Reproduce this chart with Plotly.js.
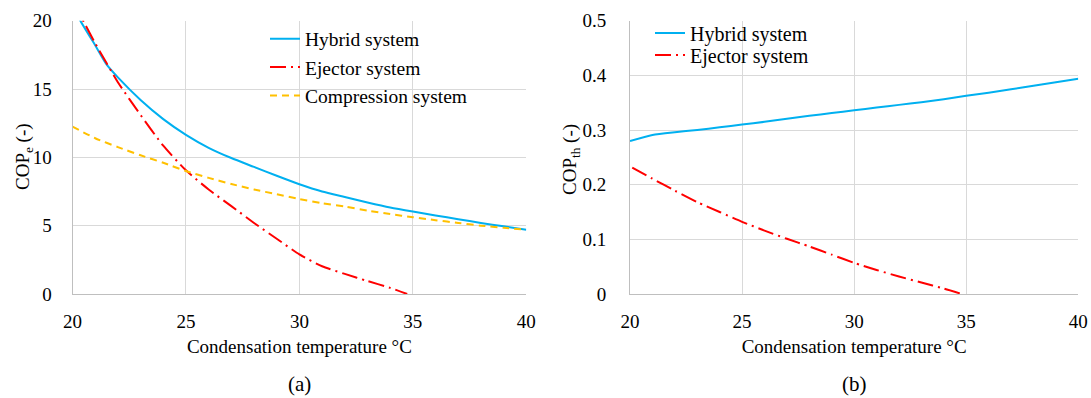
<!DOCTYPE html>
<html>
<head>
<meta charset="utf-8">
<script src="https://cdn.plot.ly/plotly-3.0.1.min.js"></script>
<style>html,body{margin:0;padding:0;background:#fff;}#chart{width:1091px;height:398px;}</style>
</head>
<body>
<div id="chart"></div>
<script>
// Panel (a): COP_e vs condensation temperature
const tempHybridA = [20, 20.33, 21, 21.5, 22, 23, 24, 25, 26, 27, 28, 29, 30, 31, 32, 33, 34, 35, 36, 37, 38, 39, 40];
const copeHybrid  = [21.3, 20.05, 18.2, 16.8, 15.85, 14.2, 12.8, 11.65, 10.7, 9.95, 9.3, 8.65, 8.03, 7.5, 7.1, 6.7, 6.33, 6.03, 5.75, 5.47, 5.2, 4.95, 4.7];
const tempEjectorA = [20, 20.5, 21, 22, 23, 24, 25, 26, 27, 28, 29, 30, 31, 32, 33, 34, 34.75];
const copeEjector  = [21.4, 19.9, 18.35, 15.5, 13.1, 10.85, 9.05, 7.65, 6.43, 5.2, 4.04, 2.9, 2.03, 1.47, 0.95, 0.45, 0.0];
const tempCompA = [20, 21, 22, 23, 24, 25, 26, 27, 28, 29, 30, 31, 32, 33, 34, 35, 36, 37, 38, 39, 40];
const copeComp  = [12.25, 11.4, 10.75, 10.15, 9.6, 9.0, 8.5, 8.05, 7.65, 7.3, 6.95, 6.65, 6.4, 6.1, 5.85, 5.62, 5.4, 5.2, 5.0, 4.85, 4.7];

// Panel (b): COP_th vs condensation temperature
const tempHybridB = [20, 21, 22, 23, 24, 25, 26, 27, 28, 29, 30, 31, 32, 33, 34, 35, 36, 37, 38, 39, 40];
const copthHybrid = [0.280, 0.291, 0.296, 0.300, 0.305, 0.310, 0.315, 0.3205, 0.326, 0.331, 0.336, 0.341, 0.346, 0.351, 0.3565, 0.3625, 0.368, 0.3745, 0.381, 0.3875, 0.394];
const tempEjectorB = [20.1, 21, 22, 23, 24, 25, 26, 27, 28, 29, 30, 31, 32, 33, 34, 34.8];
const copthEjector = [0.231, 0.211, 0.189, 0.168, 0.150, 0.132, 0.116, 0.101, 0.087, 0.072, 0.057, 0.044, 0.032, 0.021, 0.010, 0.0];

const seriesNames = ["Hybrid system", "Ejector system", "Compression system"];
const xTitle = "Condensation temperature \u00B0C";
const yTitles = ["COP<sub>e</sub> (-)", "COP<sub>th</sub> (-)"];
const panelLabels = ["(a)", "(b)"];

const BLUE = "#00B0F0", RED = "#FF0000", YELLOW = "#FFC000";
const FONT = "'Liberation Serif', 'Times New Roman', Times, serif";
const dashDot = "16px,5px,2px,5px";

const traces = [
  {x: tempHybridA, y: copeHybrid, name: seriesNames[0], mode: "lines", xaxis: "x", yaxis: "y",
   line: {color: BLUE, width: 2, shape: "spline", smoothing: 0.6}, legend: "legend", legendgroup: "a1"},
  {x: tempEjectorA, y: copeEjector, name: seriesNames[1], mode: "lines", xaxis: "x", yaxis: "y",
   line: {color: RED, width: 2, dash: dashDot, shape: "spline", smoothing: 0.6}, legend: "legend", legendgroup: "a2"},
  {x: tempCompA, y: copeComp, name: seriesNames[2], mode: "lines", xaxis: "x", yaxis: "y",
   line: {color: YELLOW, width: 2, dash: "7px,5px", shape: "spline", smoothing: 0.6}, legend: "legend", legendgroup: "a3"},
  {x: tempHybridB, y: copthHybrid, name: seriesNames[0], mode: "lines", xaxis: "x2", yaxis: "y2",
   line: {color: BLUE, width: 2, shape: "spline", smoothing: 0.6}, legend: "legend2"},
  {x: tempEjectorB, y: copthEjector, name: seriesNames[1], mode: "lines", xaxis: "x2", yaxis: "y2",
   line: {color: RED, width: 2, dash: dashDot, shape: "spline", smoothing: 0.6}, legend: "legend3"}
];

const W = 1091, H = 398;
const yDom = [(H - 294) / H, (H - 20.7) / H];
const tickFont = {family: FONT, size: 19, color: "#000"};
const titleFont = {family: FONT, size: 19, color: "#000"};
const axisCommon = {
  showgrid: true, gridcolor: "#D9D9D9", gridwidth: 1, zeroline: false,
  showline: true, linecolor: "#BFBFBF", linewidth: 1, ticks: "",
  tickfont: tickFont, fixedrange: true
};
const legendCommon = {xanchor: "left", yanchor: "top", bgcolor: "rgba(0,0,0,0)",
  font: {family: FONT, size: 20, color: "#000"}, itemwidth: 30};

const layout = {
  width: W, height: H,
  margin: {l: 0, r: 0, t: 0, b: 0},
  paper_bgcolor: "#fff", plot_bgcolor: "#fff",
  font: {family: FONT, color: "#000", size: 19},
  showlegend: true,
  xaxis: Object.assign({}, axisCommon, {domain: [72.5 / W, 526.3 / W], range: [20, 40], dtick: 5, tick0: 20,
    anchor: "y", ticklabelstandoff: 10,
    title: {text: xTitle, font: titleFont, standoff: 8}}),
  yaxis: Object.assign({}, axisCommon, {domain: yDom, range: [0, 20], dtick: 5, tick0: 0, anchor: "x",
    ticklabelstandoff: 16}),
  xaxis2: Object.assign({}, axisCommon, {domain: [630 / W, 1078.3 / W], range: [20, 40], dtick: 5, tick0: 20,
    anchor: "y2", ticklabelstandoff: 10,
    title: {text: xTitle, font: titleFont, standoff: 8}}),
  yaxis2: Object.assign({}, axisCommon, {domain: yDom, range: [0, 0.5], dtick: 0.1, tick0: 0, anchor: "x2",
    ticklabelstandoff: 19}),
  legend: Object.assign({}, legendCommon, {x: 265 / W, y: (H - 19.5) / H, traceorder: "grouped", tracegroupgap: 0,
    font: {family: FONT, size: 19.5, color: "#000"}}),
  legend2: Object.assign({}, legendCommon, {x: 650 / W, y: (H - 13.5) / H}),
  legend3: Object.assign({}, legendCommon, {x: 650 / W, y: (H - 35.5) / H}),
  annotations: [
    {text: yTitles[0], x: 24 / W, y: (H - 157) / H, xref: "paper", yref: "paper", showarrow: false,
     textangle: -90, xanchor: "center", yanchor: "middle", font: titleFont},
    {text: yTitles[1], x: 571 / W, y: (H - 160) / H, xref: "paper", yref: "paper", showarrow: false,
     textangle: -90, xanchor: "center", yanchor: "middle", font: titleFont},
    {text: panelLabels[0], x: 299 / W, y: (H - 384) / H, xref: "paper", yref: "paper", showarrow: false,
     xanchor: "center", yanchor: "middle", font: {family: FONT, size: 21, color: "#000"}},
    {text: panelLabels[1], x: 854 / W, y: (H - 384) / H, xref: "paper", yref: "paper", showarrow: false,
     xanchor: "center", yanchor: "middle", font: {family: FONT, size: 21, color: "#000"}}
  ]
};

Plotly.newPlot("chart", traces, layout, {displayModeBar: false, staticPlot: true});
</script>
</body>
</html>
